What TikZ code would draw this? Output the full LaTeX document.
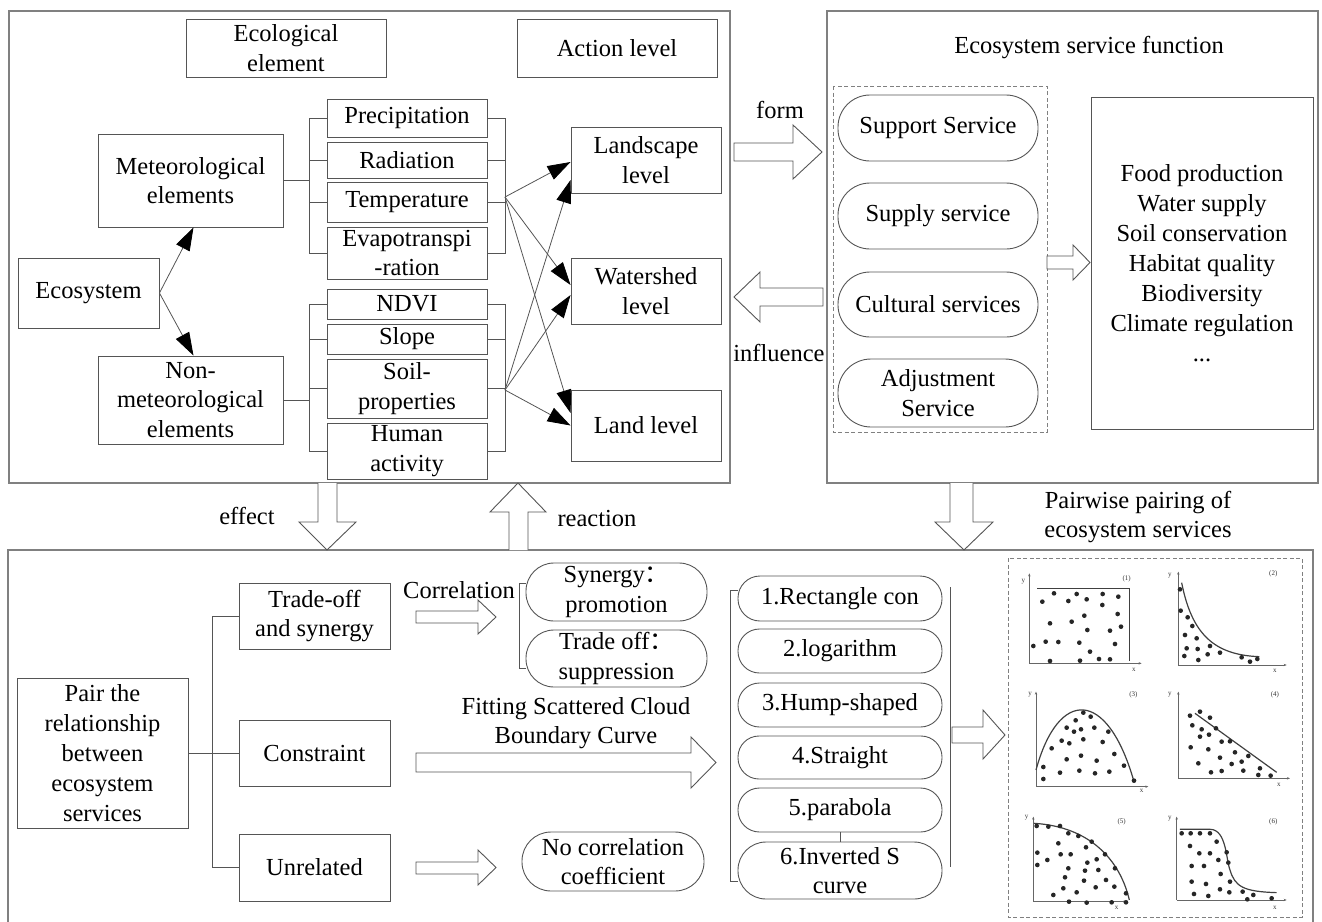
\documentclass[tikz,border=0pt]{standalone}
\usepackage{fontspec}
\setmainfont{Liberation Serif}
\newfontfamily\cjk{Noto Sans CJK SC}
\usetikzlibrary{arrows.meta}
\definecolor{lc}{HTML}{555555}
\definecolor{fc}{HTML}{808080}
\newcommand{\fs}{\fontsize{24.5}{29.5}\selectfont}
\newcommand{\fsm}{\fontsize{7}{8}\selectfont}
\begin{document}
\begin{tikzpicture}[x=1pt,y=-1pt,
  base/.style={font=\fs, text=black, align=center, inner sep=0pt},
  box/.style={base, draw=lc, line width=0.9pt, rectangle},
  pill/.style={box, rounded corners=#1},
  lbl/.style={base},
  ln/.style={draw=lc, line width=0.8pt},
  arr/.style={ln, -{Triangle[length=23pt,width=15pt,color=black,fill=black]}},
  blk/.style={draw=lc, line width=0.9pt, fill=white, line join=miter},
  frame/.style={draw=fc, line width=1.2pt},
  dsh/.style={draw=fc, line width=0.9pt, dash pattern=on 4pt off 2.5pt},
  ax/.style={draw=black!60, line width=0.5pt, -{Stealth[length=3pt,width=2.4pt]}},
  crv/.style={draw=black!75, line width=1.2pt},
  sm/.style={font=\fsm, inner sep=0pt, text=black!80}
]
\useasboundingbox (0,0) rectangle (1322,921);

% frames
\draw[frame] (9,11) rectangle (730,483);
\draw[frame] (827,11) rectangle (1318,483);
\draw[frame] (8,550) rectangle (1313,935);

% ---------- top left ----------
\node[box, minimum width=200pt, minimum height=58pt] (ecoel) at (286,48) {Ecological\\element};
\node[box, minimum width=200pt, minimum height=58pt] (act) at (617,48) {Action level};
\node[box, minimum width=185pt, minimum height=93pt] (met) at (190.5,180.5) {Meteorological\\elements};
\node[box, minimum width=141pt, minimum height=70pt] (eco) at (88.5,293) {Ecosystem};
\node[box, minimum width=185pt, minimum height=88pt] (non) at (190.5,400) {Non-\\meteorological\\elements};

\node[box, minimum width=160pt, minimum height=38pt] (pre) at (407,118) {Precipitation};
\node[box, minimum width=160pt, minimum height=36pt] (rad) at (407,160) {Radiation};
\node[box, minimum width=160pt, minimum height=40pt] (tem) at (407,202) {Temperature};
\node[box, minimum width=160pt, minimum height=52pt] (eva) at (407,253) {Evapotranspi\\-ration};
\node[box, minimum width=160pt, minimum height=30pt] (ndvi) at (407,304) {NDVI};
\node[box, minimum width=160pt, minimum height=30pt] (slo) at (407,339) {Slope};
\node[box, minimum width=160pt, minimum height=59pt] (soi) at (407,388.5) {Soil-\\properties};
\node[box, minimum width=160pt, minimum height=56pt] (hum) at (407,451) {Human\\activity};

\node[box, minimum width=150pt, minimum height=66pt] (lsc) at (646,160) {Landscape\\level};
\node[box, minimum width=150pt, minimum height=66pt] (ws) at (646,291) {Watershed\\level};
\node[box, minimum width=150pt, minimum height=71pt] (land) at (646,425.5) {Land level};

\draw[arr] (eco.east) -- ([xshift=3pt]met.south);
\draw[arr] (eco.east) -- ([xshift=3pt]non.north);

\coordinate (b1) at (309,180.5);
\draw[ln] (met.east) -- (b1);
\foreach \n in {pre,rad,tem,eva} \draw[ln] (b1) |- (\n.west);
\coordinate (b2) at (309,400);
\draw[ln] (non.east) -- (b2);
\foreach \n in {ndvi,slo,soi,hum} \draw[ln] (b2) |- (\n.west);

\coordinate (r1) at (505,197);
\foreach \n in {pre,rad,tem,eva} \draw[ln] (\n.east) -| (r1);
\coordinate (r2) at (505,390);
\foreach \n in {ndvi,slo,soi,hum} \draw[ln] (\n.east) -| (r2);

\draw[arr] (r1) -- ([yshift=-2pt]lsc.west);
\draw[arr] (r1) -- ([yshift=6pt]ws.west);
\draw[arr] (r1) -- ([yshift=12.5pt]land.west);
\draw[arr] (r2) -- ([yshift=-20pt]lsc.west);
\draw[arr] (r2) -- ([yshift=-4pt]ws.west);
\draw[arr] (r2) -- (land.west);

% form / influence
\draw[blk] (734,143) -- (793,143) -- (793,125) -- (822,152) -- (793,179) -- (793,161) -- (734,161) -- cycle;
\node[lbl] (form) at (780,110) {form};
\draw[blk] (823,288) -- (760,288) -- (760,272) -- (734,297) -- (760,322) -- (760,306) -- (823,306) -- cycle;
\node[lbl] (infl) at (779,353) {influence};

% ---------- top right ----------
\node[lbl] (esf) at (1089,48) {Ecosystem service function};
\draw[dsh] (833,86) rectangle (1047,432);
\node[pill=32pt, minimum width=200pt, minimum height=66pt] (sup) at (938,128) {Support Service};
\node[pill=32pt, minimum width=200pt, minimum height=66pt] (supl) at (938,216) {Supply service};
\node[pill=32pt, minimum width=200pt, minimum height=65pt] (cul) at (938,304.5) {Cultural services};
\node[pill=33pt, minimum width=200pt, minimum height=68pt] (adj) at (938,393) {Adjustment\\Service};
\node[box, minimum width=222pt, minimum height=332pt, font=\fontsize{24.5}{30}\selectfont] (list) at (1202,263)
  {Food production\\Water supply\\Soil conservation\\Habitat quality\\Biodiversity\\Climate regulation\\...};
\draw[blk] (1047,256) -- (1073,256) -- (1073,245) -- (1090,262.5) -- (1073,280) -- (1073,269) -- (1047,269) -- cycle;

% ---------- between ----------
\draw[blk] (318,483) -- (318,522) -- (299,522) -- (327,550) -- (356,522) -- (337,522) -- (337,483);
\node[lbl] (effect) at (247,516) {effect};
\draw[blk] (509,550) -- (509,512) -- (490,512) -- (518,483) -- (546,512) -- (528,512) -- (528,550);
\node[lbl] (react) at (597,519) {reaction};
\draw[blk] (950,483) -- (950,522) -- (935,522) -- (964,550) -- (993,522) -- (973,522) -- (973,483);
\node[lbl] (pairw) at (1138,517) {Pairwise pairing of\\ecosystem services};

% ---------- bottom ----------
\node[box, minimum width=171pt, minimum height=150pt, font=\fontsize{24.5}{30}\selectfont] (pair) at (102.5,753) {Pair the\\relationship\\between\\ecosystem\\services};
\node[box, minimum width=151pt, minimum height=66pt] (to) at (314.5,616) {Trade-off\\and synergy};
\node[box, minimum width=151pt, minimum height=66pt] (con) at (314.5,753) {Constraint};
\node[box, minimum width=151pt, minimum height=67pt] (unr) at (314.5,867.5) {Unrelated};
\coordinate (b3) at (212,753);
\draw[ln] (pair.east) -- (b3);
\foreach \n in {to,con,unr} \draw[ln] (b3) |- (\n.west);

\node[lbl] (corr) at (459,590) {Correlation};
\draw[blk] (416,611) -- (478,611) -- (478,600) -- (496,617) -- (478,634) -- (478,623) -- (416,623) -- cycle;
\draw[ln] (526,583) -- (519,583) -- (519,668) -- (526,668);
\node[pill=28pt, minimum width=181pt, minimum height=58pt] (syn) at (616.5,592) {Synergy{\cjk ：}\\promotion};
\node[pill=28pt, minimum width=181pt, minimum height=57pt] (trd) at (616.5,658.5) {Trade off{\cjk ：}\\suppression};

\node[lbl] (fit) at (576,723) {Fitting Scattered Cloud\\Boundary Curve};
\draw[blk] (416,753) -- (691,753) -- (691,737) -- (716,762.5) -- (691,788) -- (691,772) -- (416,772) -- cycle;

\draw[blk] (416,862) -- (478,862) -- (478,850) -- (496,867.5) -- (478,885) -- (478,874) -- (416,874) -- cycle;
\node[pill=29pt, minimum width=182pt, minimum height=59pt] (noc) at (613,861.5) {No correlation\\coefficient};

\node[pill=22pt, minimum width=204pt, minimum height=45pt] (p1) at (840,598.5) {1.Rectangle con};
\node[pill=21.5pt, minimum width=204pt, minimum height=44pt] (p2) at (840,651) {2.logarithm};
\node[pill=21.5pt, minimum width=204pt, minimum height=44pt] (p3) at (840,705) {3.Hump-shaped};
\node[pill=21pt, minimum width=204pt, minimum height=43pt] (p4) at (840,757.5) {4.Straight};
\node[pill=21.5pt, minimum width=204pt, minimum height=44pt] (p5) at (840,810) {5.parabola};
\node[pill=28pt, minimum width=204pt, minimum height=57pt] (p6) at (840,870.5) {6.Inverted S\\curve};
\draw[ln] (p5.south) -- (p6.north);
\draw[ln] (738,590) -- (730,590) -- (730,881) -- (738,881);
\draw[ln] (950,587) -- (950,867);
\draw[blk] (952,727) -- (983,727) -- (983,710) -- (1005,735) -- (983,759) -- (983,743) -- (952,743) -- cycle;

\draw[dsh] (1008,558) rectangle (1302,917);

% ---------- charts ----------
\begin{scope}[shift={(980,540)}, x=0.3333pt, y=-0.3333pt]
  % chart 1
  \draw[ax] (148,370) -- (148,100);
  \draw[ax] (148,370) -- (485,370);
  \node[sm] at (130,125) {y}; \node[sm] at (440,115) {(1)}; \node[sm] at (462,390) {x};
  \draw[crv] (172,145) -- (448,145) -- (448,362);
  \foreach \p in {(222,160),(290,162),(368,162),(187,185),(265,183),(320,178),(415,170),(367,195),(313,227),(413,222),(275,245),(210,250),(423,260),(322,270),(390,272),(160,318),(197,305),(235,306),(298,308),(405,312),(330,335),(210,363),(300,362),(357,357),(390,358)}
    \fill[black!85] \p circle[radius=7];
  % chart 2
  \draw[ax] (595,375) -- (595,95);
  \draw[ax] (595,375) -- (920,375);
  \node[sm] at (570,108) {y}; \node[sm] at (880,100) {(2)}; \node[sm] at (885,392) {x};
  \draw[crv] (605,128) .. controls (635,280) and (700,345) .. (838,350);
  \foreach \p in {(600,148),(602,212),(623,232),(637,258),(615,285),(650,295),(690,318),(720,338),(620,325),(653,327),(613,348),(683,343),(655,360),(785,352),(810,365),(832,357)}
    \fill[black!85] \p circle[radius=7];
  % chart 3
  \draw[ax] (168,740) -- (168,455);
  \draw[ax] (168,740) -- (505,740);
  \node[sm] at (150,465) {y}; \node[sm] at (460,465) {(3)}; \node[sm] at (485,752) {x};
  \draw[crv] (168,690) .. controls (235,444) and (382,444) .. (462,725);
  \foreach \p in {(310,518),(332,530),(287,541),(260,563),(282,575),(303,568),(343,563),(385,575),(245,602),(268,610),(310,598),(368,606),(215,625),(403,642),(260,658),(303,647),(350,662),(432,677),(190,681),(240,698),(298,692),(345,700),(388,695),(190,717),(462,722)}
    \fill[black!85] \p circle[radius=7];
  % chart 4
  \draw[ax] (595,715) -- (595,455);
  \draw[ax] (595,715) -- (930,715);
  \node[sm] at (570,465) {y}; \node[sm] at (885,465) {(4)}; \node[sm] at (897,735) {x};
  \draw[crv] (645,520) -- (890,697);
  \foreach \p in {(630,527),(660,515),(690,533),(637,556),(665,568),(708,565),(660,590),(687,584),(632,622),(725,605),(750,604),(685,628),(765,637),(655,670),(720,653),(805,648),(693,697),(755,672),(785,665),(725,693),(790,692),(840,685),(835,705),(872,707)}
    \fill[black!85] \p circle[radius=7];
  % chart 5
  \draw[ax] (160,1085) -- (160,830);
  \draw[ax] (160,1085) -- (440,1085);
  \node[sm] at (140,833) {y}; \node[sm] at (425,845) {(5)}; \node[sm] at (410,1105) {x};
  \draw[crv] (162,850) .. controls (330,860) and (420,960) .. (448,1080);
  \foreach \p in {(170,858),(205,860),(240,858),(265,880),(295,888),(335,905),(235,910),(172,938),(242,943),(272,943),(318,922),(375,943),(202,960),(172,975),(265,985),(322,968),(350,958),(315,992),(355,990),(405,985),(255,1012),(312,1022),(378,1020),(250,1045),(290,1057),(347,1042),(403,1040),(220,1065),(438,1060),(267,1085),(320,1088),(395,1087),(438,1087)}
    \fill[black!85] \p circle[radius=7];
  % chart 6
  \draw[ax] (590,1080) -- (590,830);
  \draw[ax] (590,1080) -- (920,1080);
  \node[sm] at (570,835) {y}; \node[sm] at (880,845) {(6)}; \node[sm] at (885,1105) {x};
  \draw[crv] (600,868) -- (690,868) .. controls (740,868) and (738,960) .. (750,990) .. controls (765,1040) and (790,1055) .. (890,1058);
  \foreach \p in {(605,880),(632,880),(660,880),(690,880),(630,918),(710,905),(658,940),(690,940),(740,937),(715,960),(745,968),(635,978),(672,978),(722,1002),(750,1025),(635,1025),(678,1032),(720,1048),(748,1057),(642,1062),(685,1068),(788,1055),(802,1078),(820,1065),(875,1075)}
    \fill[black!85] \p circle[radius=7];
\end{scope}
\end{tikzpicture}
\end{document}
